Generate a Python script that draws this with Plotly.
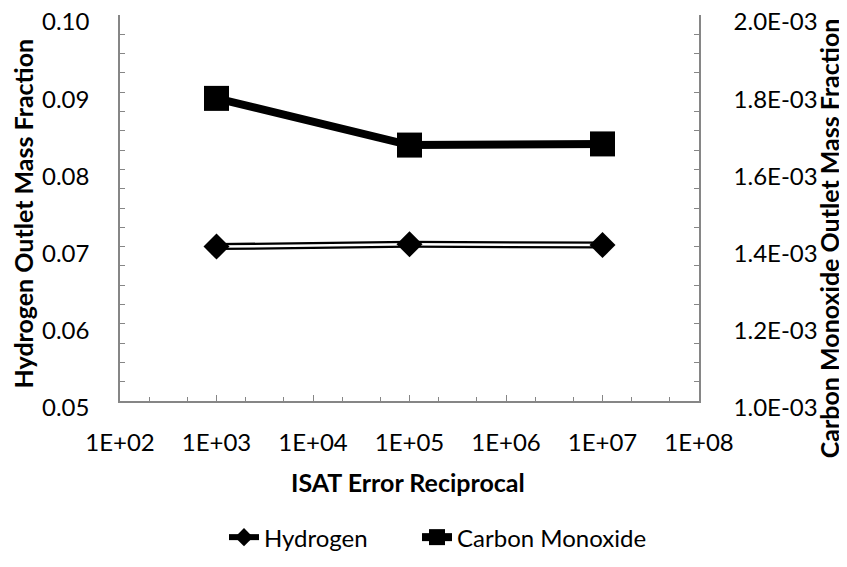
import plotly.graph_objects as go

isat_err_recip = [1e3, 1e5, 1e7]
hydrogen = [0.0700, 0.0703, 0.0702]
carbon_monoxide = [1.784e-3, 1.663e-3, 1.666e-3]

x_tickvals = [1e2, 1e3, 1e4, 1e5, 1e6, 1e7, 1e8]
x_ticktext = ["1E+02", "1E+03", "1E+04", "1E+05", "1E+06", "1E+07", "1E+08"]
y2_tickvals = [1.0e-3, 1.2e-3, 1.4e-3, 1.6e-3, 1.8e-3, 2.0e-3]
y2_ticktext = ["1.0E-03", "1.2E-03", "1.4E-03", "1.6E-03", "1.8E-03", "2.0E-03"]

FONT = "Lato, 'Open Sans', sans-serif"
AX = "#868686"
FS = 24

fig = go.Figure()
# Hydrogen: double line (black outer, white inner) with diamond markers
fig.add_trace(go.Scatter(x=isat_err_recip, y=hydrogen, mode="lines", name="Hydrogen",
                         line=dict(color="black", width=7), showlegend=False, yaxis="y"))
fig.add_trace(go.Scatter(x=isat_err_recip, y=hydrogen, mode="lines", name="Hydrogen",
                         line=dict(color="white", width=2.5), showlegend=False, yaxis="y"))
fig.add_trace(go.Scatter(x=isat_err_recip, y=hydrogen, mode="markers", name="Hydrogen",
                         marker=dict(symbol="diamond", size=20, color="black"),
                         showlegend=False, yaxis="y"))
# Legend entry for hydrogen
fig.add_trace(go.Scatter(x=[None], y=[None], mode="lines+markers", name="Hydrogen",
                         line=dict(color="black", width=6),
                         marker=dict(symbol="diamond", size=14, color="black"),
                         yaxis="y", legend="legend"))
# Carbon monoxide
fig.add_trace(go.Scatter(x=isat_err_recip, y=carbon_monoxide, mode="lines+markers",
                         name="Carbon Monoxide",
                         line=dict(color="black", width=8),
                         marker=dict(symbol="square", size=25, color="black"),
                         yaxis="y2", legend="legend2"))

fig.update_layout(
    width=839, height=559,
    margin=dict(l=112, r=148, t=7, b=163),
    paper_bgcolor="white", plot_bgcolor="white",
    font=dict(family=FONT, size=FS, color="black"),
    showlegend=True,
    legend=dict(orientation="h", x=0.1796, xanchor="left", y=-0.412, yanchor="bottom",
                font=dict(size=24), bgcolor="rgba(0,0,0,0)"),
    legend2=dict(orientation="h", x=0.513, xanchor="left", y=-0.412, yanchor="bottom",
                 font=dict(size=24), bgcolor="rgba(0,0,0,0)"),
    xaxis=dict(type="log", range=[2, 8], tickvals=x_tickvals, ticktext=x_ticktext,
               automargin=False, ticklabeloverflow="allow",
               showline=True, linecolor=AX, linewidth=1.5, mirror=False,
               ticks="inside", ticklen=6, tickcolor=AX, showgrid=False, zeroline=False,
               minor=dict(ticks="inside", ticklen=4, tickcolor=AX, showgrid=False),
               ticklabelstandoff=19, tickfont=dict(size=FS)),
    yaxis=dict(range=[0.05, 0.10], dtick=0.01, tickformat=".2f",
               automargin=False, ticklabeloverflow="allow", ticklabelshift=7,
               showline=True, linecolor=AX, linewidth=1.5,
               ticks="inside", ticklen=5, tickcolor=AX, showgrid=False, zeroline=False,
               minor=dict(dtick=0.0025, ticks="inside", ticklen=5, tickcolor=AX, showgrid=False),
               ticklabelstandoff=24, tickfont=dict(size=FS)),
    yaxis2=dict(range=[1.0e-3, 2.0e-3], overlaying="y", side="right",
                automargin=False, ticklabeloverflow="allow", ticklabelshift=7,
                tickvals=y2_tickvals, ticktext=y2_ticktext,
                showline=True, linecolor=AX, linewidth=1.5,
                ticks="inside", ticklen=5, tickcolor=AX, showgrid=False, zeroline=False,
                minor=dict(dtick=0.05e-3, ticks="inside", ticklen=5, tickcolor=AX, showgrid=False),
                ticklabelstandoff=28, tickfont=dict(size=FS)),
    annotations=[
        dict(text="<b>ISAT Error Reciprocal</b>", xref="paper", yref="paper",
             x=0.497, y=-0.21, xanchor="center", yanchor="middle", showarrow=False,
             font=dict(size=25)),
        dict(text="<b>Hydrogen Outlet Mass Fraction</b>", xref="paper", yref="paper",
             x=-0.1675, y=0.486, xanchor="center", yanchor="middle", showarrow=False,
             textangle=-90, font=dict(size=25)),
        dict(text="<b>Carbon Monoxide Outlet Mass Fraction</b>", xref="paper", yref="paper",
             x=1.2245, y=0.4216, xanchor="center", yanchor="middle", showarrow=False,
             textangle=-90, font=dict(size=25)),
    ],
)

fig.write_html("out.html")
